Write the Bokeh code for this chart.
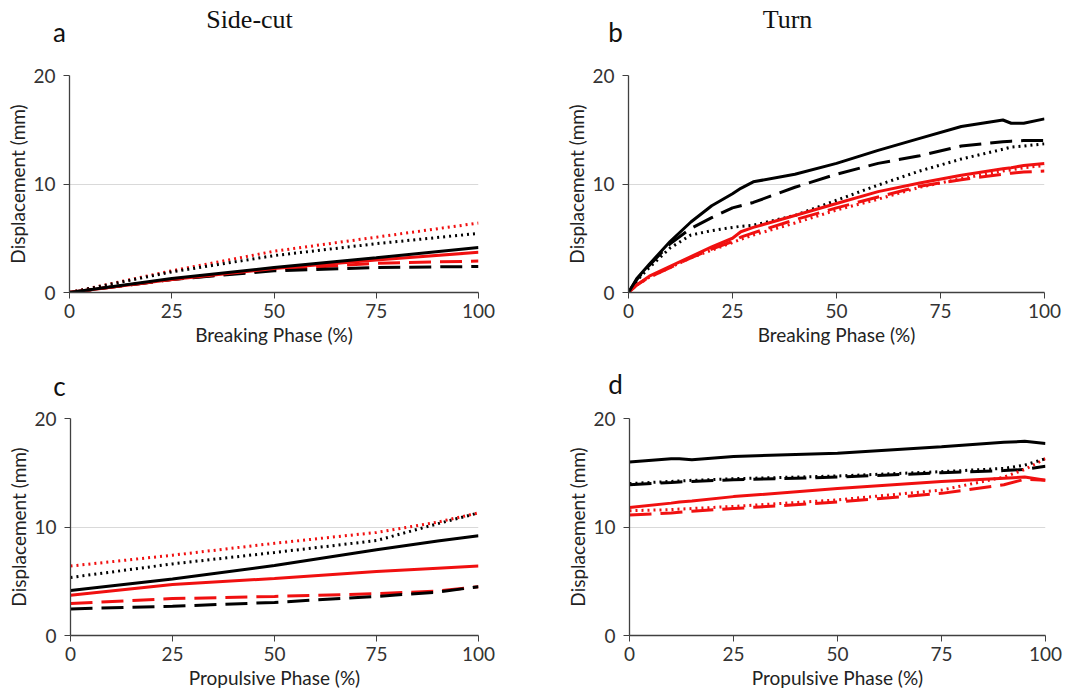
from bokeh.plotting import figure
from bokeh.layouts import column, row
from bokeh.models import Label, FixedTicker, Range1d
from bokeh.embed import file_html
from bokeh.resources import INLINE

# ---------------- data ----------------
X_A = [0, 25, 50, 75, 100]
A_BLACK_SOLID = [0, 1.3, 2.3, 3.2, 4.15]
A_BLACK_DASHED = [0, 1.2, 2.0, 2.3, 2.4]
A_BLACK_DOTTED = [0, 1.9, 3.4, 4.5, 5.45]
A_RED_SOLID = [0, 1.2, 2.2, 3.0, 3.7]
A_RED_DASHED = [0, 1.2, 2.1, 2.7, 2.9]
A_RED_DOTTED = [0, 2.0, 3.8, 5.1, 6.4]

X_B = [0, 2, 5, 10, 15, 20, 25, 27, 30, 40, 50, 60, 70, 80, 90, 92, 95, 100]
B_BLACK_SOLID = [0, 1.3, 2.6, 4.7, 6.5, 8.0, 9.1, 9.6, 10.2, 10.9, 11.9, 13.1, 14.2, 15.3, 15.9, 15.6, 15.6, 16.0]
B_BLACK_DASHED = [0, 1.2, 2.5, 4.5, 5.9, 6.9, 7.8, 8.0, 8.3, 9.7, 10.9, 11.9, 12.6, 13.5, 13.9, 13.95, 14.0, 14.0]
B_BLACK_DOTTED = [0, 1.1, 2.3, 4.1, 5.3, 5.7, 6.0, 6.1, 6.2, 7.1, 8.5, 9.9, 11.2, 12.3, 13.2, 13.4, 13.5, 13.7]
B_RED_SOLID = [0, 0.7, 1.5, 2.4, 3.3, 4.2, 5.0, 5.6, 6.0, 7.1, 8.2, 9.3, 10.1, 10.8, 11.4, 11.5, 11.7, 11.9]
B_RED_DASHED = [0, 0.7, 1.4, 2.3, 3.2, 4.0, 4.7, 5.1, 5.5, 6.7, 7.8, 8.8, 9.8, 10.4, 10.9, 11.0, 11.1, 11.2]
B_RED_DOTTED = [0, 0.7, 1.4, 2.3, 3.2, 3.9, 4.6, 4.9, 5.3, 6.4, 7.6, 8.6, 9.7, 10.5, 11.2, 11.3, 11.5, 11.7]

X_C = [0, 25, 50, 75, 90, 100]
C_BLACK_SOLID = [4.15, 5.2, 6.45, 7.9, 8.7, 9.2]
C_BLACK_DASHED = [2.45, 2.7, 3.05, 3.6, 4.0, 4.5]
C_BLACK_DOTTED = [5.35, 6.6, 7.65, 8.75, 10.3, 11.3]
C_RED_SOLID = [3.7, 4.7, 5.25, 5.9, 6.2, 6.4]
C_RED_DASHED = [2.95, 3.4, 3.6, 3.85, 4.1, 4.5]
C_RED_DOTTED = [6.4, 7.4, 8.5, 9.5, 10.45, 11.3]

X_D = [0, 10, 12, 15, 25, 50, 75, 90, 95, 100]
D_BLACK_SOLID = [16.0, 16.3, 16.3, 16.2, 16.5, 16.8, 17.4, 17.8, 17.9, 17.7]
D_BLACK_DASHED = [13.9, 14.1, 14.15, 14.2, 14.35, 14.6, 15.0, 15.2, 15.3, 15.6]
D_BLACK_DOTTED = [14.0, 14.2, 14.25, 14.3, 14.45, 14.7, 15.1, 15.4, 15.7, 16.3]
D_RED_SOLID = [11.8, 12.2, 12.3, 12.4, 12.8, 13.55, 14.2, 14.5, 14.6, 14.3]
D_RED_DASHED = [11.1, 11.3, 11.35, 11.45, 11.7, 12.3, 13.1, 13.9, 14.4, 14.3]
D_RED_DOTTED = [11.5, 11.6, 11.65, 11.7, 11.9, 12.5, 13.4, 14.6, 15.3, 16.3]

X_TICKS = [0, 25, 50, 75, 100]
Y_TICKS = [0, 10, 20]
COLUMN_TITLES = ["Side-cut", "Turn"]
PANEL_LETTERS = ["a", "b", "c", "d"]
X_LABELS = ["Breaking Phase (%)", "Breaking Phase (%)", "Propulsive Phase (%)", "Propulsive Phase (%)"]
Y_LABEL = "Displacement (mm)"

SANS = "Lato"
SERIF = "Liberation Serif"
RED = "#f01010"
BLACK = "#000000"


def make_panel(x, series, width, height, bl, br, bt, bb, xlabel):
    p = figure(width=width, height=height, output_backend="svg", toolbar_location=None,
               x_range=Range1d(0, 100), y_range=Range1d(0, 20),
               min_border_left=bl, min_border_right=br, min_border_top=bt, min_border_bottom=bb)
    p.outline_line_color = None
    p.xgrid.visible = False
    p.ygrid.grid_line_color = "#d9d9d9"
    p.ygrid.grid_line_width = 1
    p.xaxis.ticker = FixedTicker(ticks=X_TICKS)
    p.yaxis.ticker = FixedTicker(ticks=Y_TICKS)
    for ax in (p.xaxis[0], p.yaxis[0]):
        ax.axis_line_color = "#404040"
        ax.axis_line_width = 1.3
        ax.major_tick_line_color = "#404040"
        ax.major_tick_out = 6
        ax.major_tick_in = 0
        ax.minor_tick_line_color = None
        ax.major_label_text_font = SANS
        ax.major_label_text_font_size = "19px"
        ax.major_label_text_color = "#333333"
        ax.axis_label_text_font = SANS
        ax.axis_label_text_font_size = "19px"
        ax.axis_label_text_font_style = "normal"
        ax.axis_label_text_color = "#222222"
    p.xaxis.axis_label = xlabel
    p.yaxis.axis_label = Y_LABEL
    p.xaxis.major_label_standoff = 5
    p.yaxis.major_label_standoff = 8
    p.xaxis.axis_label_standoff = 2
    p.yaxis.axis_label_standoff = 1
    styles = [
        (BLACK, None), (BLACK, "22 9"), (BLACK, "2 4"),
        (RED, None), (RED, "22 9"), (RED, "2 4"),
    ]
    order = [4, 1, 5, 2, 3, 0]
    for i in order:
        color, dash = styles[i]
        kw = dict(line_color=color, line_width=3)
        if dash:
            kw["line_dash"] = dash
        p.line(x, series[i], **kw)
    return p


def make_header(height):
    # text-only strip: x and y measured in pixels from the top-left
    h = figure(width=1071, height=height, output_backend="svg", toolbar_location=None,
               x_range=Range1d(0, 1071), y_range=Range1d(height, 0),
               x_axis_type=None, y_axis_type=None,
               min_border_left=0, min_border_right=0, min_border_top=0, min_border_bottom=0)
    h.outline_line_color = None
    h.grid.visible = False
    return h


def letter(h, txt, x, y):
    h.add_layout(Label(x=x, y=y, text=txt, text_font=SANS, text_font_size="26px",
                       text_align="center", text_baseline="middle", text_color="#111111"))


def coltitle(h, txt, x, y):
    h.add_layout(Label(x=x, y=y, text=txt, text_font=SERIF, text_font_size="26px",
                       text_align="center", text_baseline="middle", text_color="#111111"))


H1 = 50
H2 = 52
head1 = make_header(H1)
coltitle(head1, COLUMN_TITLES[0], 249, 19)
coltitle(head1, COLUMN_TITLES[1], 787, 19)
letter(head1, PANEL_LETTERS[0], 59, 31)
letter(head1, PANEL_LETTERS[1], 615, 31)

head2 = make_header(H2)
letter(head2, PANEL_LETTERS[2], 59, 35)
letter(head2, PANEL_LETTERS[3], 615, 33)

pa = make_panel(X_A, [A_BLACK_SOLID, A_BLACK_DASHED, A_BLACK_DOTTED, A_RED_SOLID, A_RED_DASHED, A_RED_DOTTED],
                540, 350 - H1, 69, 62, 75 - H1, 58, X_LABELS[0])
pb = make_panel(X_B, [B_BLACK_SOLID, B_BLACK_DASHED, B_BLACK_DOTTED, B_RED_SOLID, B_RED_DASHED, B_RED_DOTTED],
                531, 350 - H1, 88, 27, 75 - H1, 58, X_LABELS[1])
pc = make_panel(X_C, [C_BLACK_SOLID, C_BLACK_DASHED, C_BLACK_DOTTED, C_RED_SOLID, C_RED_DASHED, C_RED_DOTTED],
                540, 345 - H2, 70, 62, 68 - H2, 60, X_LABELS[2])
pd = make_panel(X_D, [D_BLACK_SOLID, D_BLACK_DASHED, D_BLACK_DOTTED, D_RED_SOLID, D_RED_DASHED, D_RED_DOTTED],
                531, 345 - H2, 89, 26, 68 - H2, 60, X_LABELS[3])

layout = column(head1, row(pa, pb), head2, row(pc, pd))
open("out.html", "w").write(file_html(layout, INLINE))
